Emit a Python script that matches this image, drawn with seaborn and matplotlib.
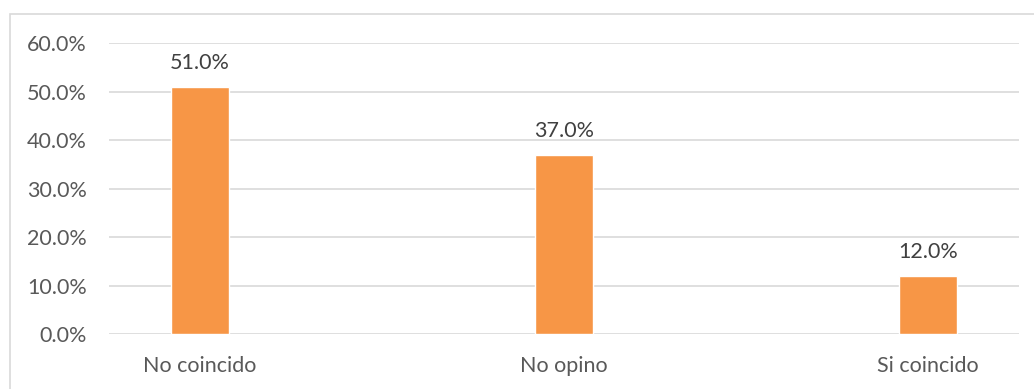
import matplotlib
matplotlib.use("Agg")
import matplotlib.pyplot as plt
import seaborn as sns
import pandas as pd
from matplotlib.patches import Rectangle
from matplotlib.ticker import FuncFormatter

categories = ["No coincido", "No opino", "Si coincido"]
values = [51.0, 37.0, 12.0]
yticks = [0, 10, 20, 30, 40, 50, 60]

sns.set_theme(style="white")
plt.rcParams['font.family'] = ['Lato', 'DejaVu Sans']

W, H = 1034, 389
fig = plt.figure(figsize=(W / 100, H / 100), dpi=100)
fig.patch.set_facecolor("white")

# chart border
fig.patches.append(Rectangle((10 / W, -0.05), 1.2, (H - 14) / H + 0.05, transform=fig.transFigure,
                             fill=False, edgecolor="#D9D9D9", linewidth=1.2))

ax = fig.add_axes([109 / W, (H - 334) / H, (1019 - 109) / W, (334 - 43) / H])
df = pd.DataFrame({"cat": categories, "val": values})
sns.barplot(data=df, x="cat", y="val", color="#F79646", saturation=1, width=0.157, ax=ax)

ax.set_xlim(-0.25, 2.25)
ax.set_ylim(0, 60)
ax.set_yticks(yticks)
ax.yaxis.set_major_formatter(FuncFormatter(lambda v, p: f"{v:.1f}%"))
ax.grid(axis="y", color="#D9D9D9", linewidth=1.2)
ax.set_axisbelow(True)
for s in ax.spines.values():
    s.set_visible(False)
ax.tick_params(axis="both", length=0, labelsize=15.5, labelcolor="#595959")
ax.tick_params(axis="y", pad=16)
ax.tick_params(axis="x", pad=16)
ax.set_xlabel("")
ax.set_ylabel("")

for i, v in enumerate(values):
    ax.annotate(f"{v:.1f}%", (i, v), xytext=(0, 10), textcoords="offset points",
                ha="center", va="bottom", fontsize=15.5, color="#404040")

fig.savefig("out.png", dpi=100)
